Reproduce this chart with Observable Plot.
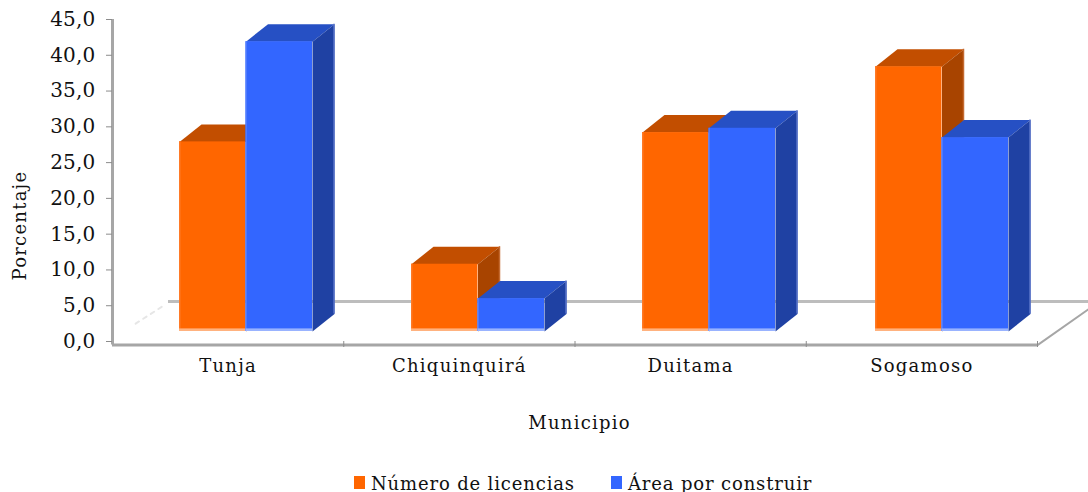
<!DOCTYPE html>
<html><head><meta charset="utf-8">
<script src="https://cdn.jsdelivr.net/npm/d3@7"></script>
<script src="https://cdn.jsdelivr.net/npm/@observablehq/plot@0.6"></script>
<style>
html,body{margin:0;padding:0;background:#fff;overflow:hidden}
#legend{position:relative;height:22px;font-family:"DejaVu Serif",serif;font-size:18px;letter-spacing:.85px;color:#111;white-space:nowrap}
#legend span{position:absolute;top:3px;line-height:22px}
#legend i{position:absolute;width:11px;height:13px;top:6px}
svg{display:block;letter-spacing:1.25px}
svg g[aria-label="y-axis tick label"]{letter-spacing:.2px}
</style></head><body>
<div id="chart"></div>
<div id="legend"></div>
<script>
const municipios = ["Tunja","Chiquinquirá","Duitama","Sogamoso"];
const licencias = [26.5, 9.4, 27.8, 37.0];
const area = [40.5, 4.6, 28.4, 27.1];
const yTicks = [0,5,10,15,20,25,30,35,40,45];
const seriesNames = ["Número de licencias","Área por construir"];
const palette = [
  {front:"#ff6600", top:"#c24e00", side:"#a84400", low:"#ffb27f", edge:"#ff7a26", rim:"#c46a30"},
  {front:"#3366ff", top:"#2650c4", side:"#1f41a3", low:"#99b3ff", edge:"#4d7aff", rim:"#5a74c8"}
];
const W=1088, H=470, x0=112, x1=1037, yZero=341, yTop=19;
const ux=(x1-x0)/4, uy=(yZero-yTop)/45;
const barW=66.5/ux, depthX=22/ux, depthY=17.5/uy, base=10/uy;
const groupStart=[67,299,530,763].map(v=>v/ux);
const bars=[];
municipios.forEach((m,i)=>{
  [licencias[i],area[i]].forEach((v,s)=>{
    const l=groupStart[i]+s*barW;
    bars.push({m,s,v,l,r:l+barW,b:base,t:base+v,c:palette[s]});
  });
});
const faces=[];
bars.forEach((d,i)=>{
  const D=depthX,E=depthY;
  [[d.l,d.t],[d.l+D,d.t+E],[d.r+D,d.t+E],[d.r,d.t]].forEach(p=>faces.push({id:"t"+i,s:d.s,x:p[0],y:p[1],f:d.c.top}));
  [[d.r,d.t],[d.r+D,d.t+E],[d.r+D,d.b+E],[d.r,d.b]].forEach(p=>faces.push({id:"r"+i,s:d.s,x:p[0],y:p[1],f:d.c.side}));
});
const barMarks=[0,1].flatMap(s=>{
  const bs=bars.filter(d=>d.s===s), fs=faces.filter(d=>d.s===s);
  return [
    Plot.line(fs,{x:"x",y:"y",z:"id",fill:d=>d.f,stroke:"none",curve:"linear"}),
    Plot.ruleX(bs,{x:d=>d.r+depthX,y1:d=>d.b+depthY,y2:d=>d.t+depthY,stroke:d=>d.c.rim,strokeWidth:1.5,dx:-0.5}),
    Plot.rect(bs,{x1:"l",x2:"r",y1:"b",y2:"t",fill:d=>d.c.front}),
    Plot.rect(bs,{x1:"l",x2:d=>d.l+1.5/ux,y1:"b",y2:"t",fill:d=>d.c.edge}),
    Plot.rect(bs,{x1:"l",x2:"r",y1:"b",y2:d=>d.b+2.6/uy,fill:d=>d.c.low})
  ];
});
const floorY=40/uy, wallX=56/ux, rightEnd=(W-x0)/ux;
const plot=Plot.plot({
  width:W,height:H,
  marginLeft:x0,marginRight:W-x1,marginTop:yTop,marginBottom:H-yZero,
  style:{background:"#fff",fontFamily:'"DejaVu Serif",serif',fontSize:"18px",color:"#111"},
  x:{domain:[0,4],range:[x0,x1]},
  y:{domain:[0,45],range:[yZero,yTop]},
  marks:[
    Plot.line([{x:0.1,y:2.5},{x:0.23,y:5.2}],{x:"x",y:"y",stroke:"#e6e6e6",strokeWidth:2,strokeDasharray:"4 5"}),
    Plot.ruleY([floorY],{x1:wallX,x2:rightEnd,stroke:"#bdbdbd",strokeWidth:3}),
    Plot.line([{x:4,y:-0.5},{x:rightEnd,y:4.5}],{x:"x",y:"y",stroke:"#a6a6a6",strokeWidth:2}),
    Plot.ruleX([0],{y1:-0.5,y2:45,stroke:"#a6a6a6",strokeWidth:3}),
    Plot.ruleY([0],{x1:0,x2:4,stroke:"#a6a6a6",strokeWidth:3,dy:3.5}),
    Plot.axisY({ticks:yTicks,tickFormat:d=>d.toFixed(1).replace(".",","),tickSize:6,tickPadding:11,stroke:"#8c8c8c",fill:"#111",fontSize:20,label:null}),
    Plot.axisX({ticks:[1,2,3,4],tickFormat:()=>"",tickSize:6,stroke:"#8c8c8c",label:null}),
    Plot.axisX({ticks:[0.5,1.5,2.5,3.5],tickFormat:d=>municipios[d-0.5],tickSize:0,tickPadding:18,fill:"#111",fontSize:18,label:null}),
    ...barMarks,
    Plot.text(["Porcentaje"],{x:-92/ux,y:16.2,rotate:-90,fill:"#111",fontSize:18}),
    Plot.text(["Municipio"],{x:2.02,y:0,dy:82,fill:"#111",fontSize:18})
  ]
});
document.getElementById("chart").append(plot);
const lg=document.getElementById("legend");
[[354,371],[611,628]].forEach((p,i)=>{
  const sw=document.createElement("i");sw.style.left=p[0]+"px";sw.style.background=palette[i].front;lg.append(sw);
  const t=document.createElement("span");t.style.left=p[1]+"px";t.textContent=seriesNames[i];lg.append(t);
});
</script></body></html>
